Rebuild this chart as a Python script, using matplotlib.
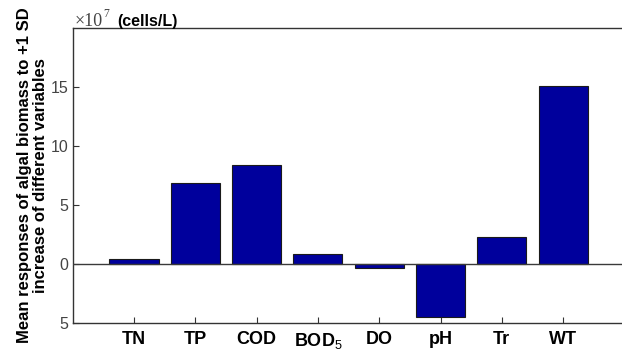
import matplotlib
matplotlib.use("Agg")
import matplotlib.pyplot as plt
from matplotlib.ticker import FixedLocator, FixedFormatter

plt.rcParams['font.family'] = ['Liberation Sans', 'DejaVu Sans']
plt.rcParams['mathtext.fontset'] = 'custom'
plt.rcParams['mathtext.rm'] = 'Liberation Sans'
plt.rcParams['mathtext.bf'] = 'Liberation Sans:bold'

# respostas medias (x 10^7 cells/L)
variaveis = ["TN", "TP", "COD", r"BOD$_{\mathrm{5}}$", "DO", "pH", "Tr", "WT"]
respostas = [0.4, 6.9, 8.4, 0.85, -0.35, -4.45, 2.3, 15.05]
y_ticks = [-5, 0, 5, 10, 15]
y_rotulos = ["5", "0", "5", "10", "15"]

fig = plt.figure(figsize=(6.22, 3.53), dpi=100)
ax = fig.add_axes([72.7 / 622, 30 / 353, 551.7 / 622, 295 / 353])

pos = range(1, len(respostas) + 1)
ax.bar(pos, respostas, width=0.8, color="#00009c", edgecolor="#1a1a1a",
       linewidth=0.8, zorder=2)
ax.axhline(0, color="#3a3a3a", lw=1.0, zorder=3)

ax.set_xlim(0, 9)
ax.set_ylim(-5, 20)
ax.xaxis.set_major_locator(FixedLocator(list(pos)))
ax.xaxis.set_major_formatter(FixedFormatter(variaveis))
ax.yaxis.set_major_locator(FixedLocator(y_ticks))
ax.yaxis.set_major_formatter(FixedFormatter(y_rotulos))

ax.tick_params(axis="both", direction="in", length=4.5, width=0.8, color="#333333")
ax.tick_params(axis="x", pad=6, labelsize=13)
ax.tick_params(axis="y", pad=3, labelsize=11.5, labelcolor="#444444")
for lbl in ax.get_xticklabels():
    lbl.set_fontweight("bold")

ax.spines["right"].set_visible(False)
for s in ["left", "top", "bottom"]:
    ax.spines[s].set_color("#333333")
    ax.spines[s].set_linewidth(1.0)

ax.set_ylabel("Mean responses of algal biomass to +1 SD\nincrease of different variables",
              fontsize=12, fontweight="bold", labelpad=2, linespacing=1.1)

# fator de escala no topo do eixo
fig.text(75 / 622, 1 - 26 / 353, "\u00d710", fontsize=13, family="Liberation Serif",
         color="#444444", ha="left", va="baseline")
fig.text(103 / 622, 1 - 17 / 353, "7", fontsize=8.5, family="Liberation Serif",
         color="#444444", ha="left", va="baseline")
fig.text(117 / 622, 1 - 26 / 353, "(cells/L)", fontsize=11.5,
         fontweight="bold", ha="left", va="baseline")

fig.savefig("out.png", dpi=100)
